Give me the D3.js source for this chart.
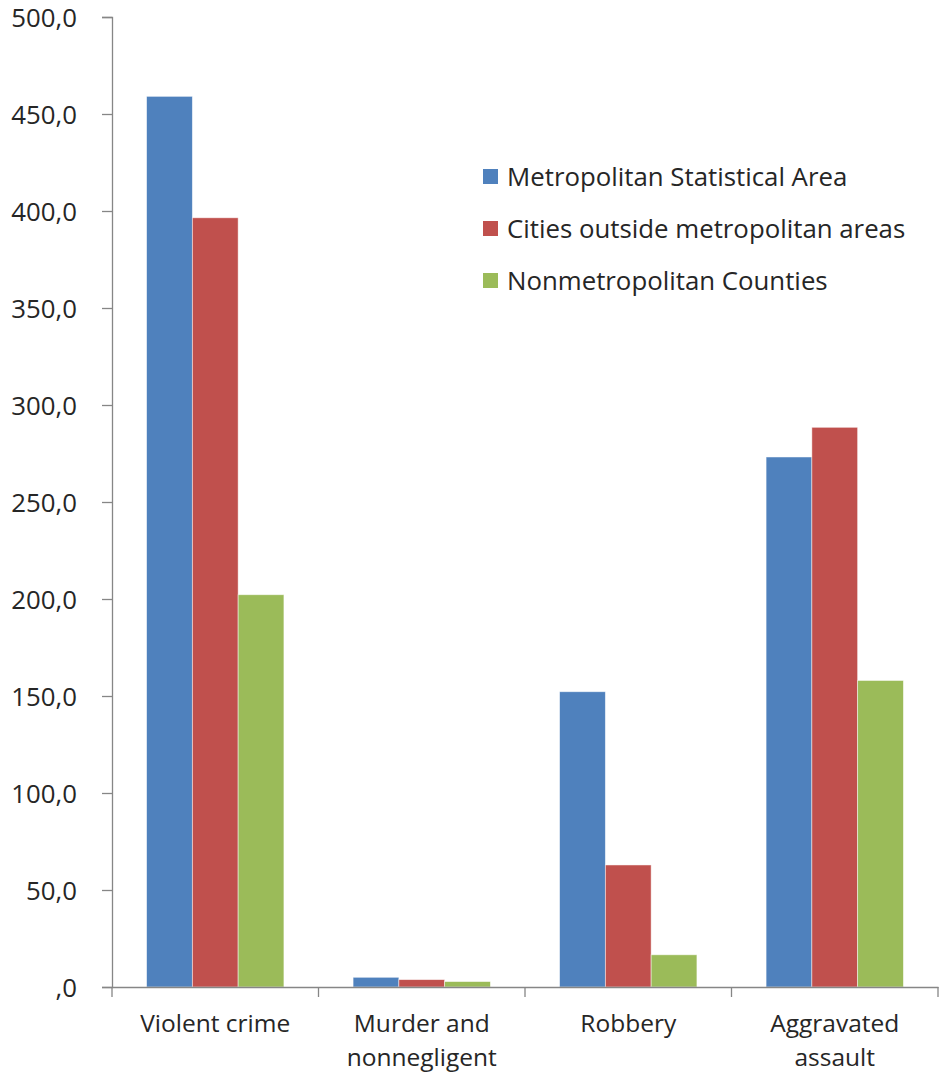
<!DOCTYPE html>
<html>
<head>
<meta charset="utf-8">
<script src="https://cdn.jsdelivr.net/npm/d3@7"></script>
<style>
  html, body { margin: 0; padding: 0; background: #ffffff; }
  svg { display: block; }
  text { font-family: "Open Sans", "Lato", sans-serif; fill: #262626; }
</style>
</head>
<body>
<svg id="chart" width="942" height="1074"></svg>
<script>
// Violent crime rates per 100,000 inhabitants by area type
const categories = [
  ["Violent crime"],
  ["Murder and", "nonnegligent"],
  ["Robbery"],
  ["Aggravated", "assault"]
];
const seriesNames = [
  "Metropolitan Statistical Area",
  "Cities outside metropolitan areas",
  "Nonmetropolitan Counties"
];
const metroValues   = [459.1, 5.0, 152.2, 273.2];
const citiesValues  = [396.5, 3.8, 62.9, 288.5];
const nonmetroValues = [202.2, 2.8, 16.6, 158.0];
const yTicks = [0, 50, 100, 150, 200, 250, 300, 350, 400, 450, 500];
const colors = ["#4F81BD", "#C0504D", "#9BBB59"];

const seriesValues = [metroValues, citiesValues, nonmetroValues];
const catKeys = categories.map(c => c.join(" "));

const svg = d3.select("#chart");
const plotLeft = 112, plotRight = 938, plotTop = 17, plotBottom = 987;
const fontSize = "25.8px";
const catFontSize = "24.5px";

const y = d3.scaleLinear().domain([0, 500]).range([plotBottom, plotTop]);
const x0 = d3.scaleBand().domain(catKeys).range([plotLeft, plotRight]).padding(0);
const bw = x0.bandwidth();
const groupPad = bw * 0.1675;
const x1 = d3.scaleBand().domain(seriesNames).range([groupPad, bw - groupPad]).padding(0);

// bars
const groups = svg.append("g").selectAll("g")
  .data(catKeys)
  .join("g")
  .attr("transform", d => `translate(${x0(d)},0)`);

groups.selectAll("rect")
  .data((d, i) => seriesNames.map((s, k) => ({ s, k, v: seriesValues[k][i] })))
  .join("rect")
  .attr("x", d => x1(d.s))
  .attr("width", x1.bandwidth())
  .attr("y", d => y(d.v))
  .attr("height", d => plotBottom - y(d.v))
  .attr("fill", d => colors[d.k])
  .attr("stroke", "rgba(255,255,255,0.6)")
  .attr("stroke-width", 0.8);

// y axis
const fmt = v => v === 0 ? ",0" : v.toFixed(1).replace(".", ",");
const yAxis = d3.axisLeft(y).tickValues(yTicks).tickFormat(fmt).tickSize(10).tickPadding(25);
const gy = svg.append("g").attr("transform", `translate(${plotLeft},0)`).call(yAxis);
gy.select(".domain").attr("stroke", "#868686").attr("stroke-width", 1.3);
gy.selectAll(".tick line").attr("stroke", "#868686").attr("stroke-width", 1.3);
gy.selectAll(".tick text")
  .style("font-family", "'Open Sans', Lato, sans-serif")
  .style("font-size", fontSize)
  .attr("fill", "#262626")
  .attr("dy", "0.35em");

// x axis
const xAxis = d3.axisBottom(x0).tickSize(0).tickFormat("");
const gx = svg.append("g").attr("transform", `translate(0,${plotBottom})`).call(xAxis);
gx.select(".domain").attr("stroke", "#868686").attr("stroke-width", 1.3);
const boundaries = catKeys.map(k => x0(k)).concat([plotRight]);
gx.selectAll("line.sep")
  .data(boundaries)
  .join("line")
  .attr("class", "sep")
  .attr("x1", d => d).attr("x2", d => d)
  .attr("y1", 0).attr("y2", 10)
  .attr("stroke", "#868686").attr("stroke-width", 1.3);

// category labels
const labels = svg.append("g").selectAll("text")
  .data(categories)
  .join("text")
  .attr("x", (d, i) => x0(catKeys[i]) + bw / 2)
  .attr("y", 1032)
  .attr("text-anchor", "middle")
  .style("font-size", catFontSize);
labels.selectAll("tspan")
  .data(d => d)
  .join("tspan")
  .attr("x", function() { return d3.select(this.parentNode).attr("x"); })
  .attr("dy", (d, i) => i === 0 ? 0 : 34)
  .text(d => d);

// legend
const legend = svg.append("g").attr("transform", "translate(483,169)");
const items = legend.selectAll("g")
  .data(seriesNames)
  .join("g")
  .attr("transform", (d, i) => `translate(0,${i * 52})`);
items.append("rect")
  .attr("width", 15).attr("height", 15)
  .attr("fill", (d, i) => colors[i]);
items.append("text")
  .attr("x", 24).attr("y", 8)
  .attr("dy", "0.35em")
  .style("font-size", fontSize)
  .text(d => d);
</script>
</body>
</html>
